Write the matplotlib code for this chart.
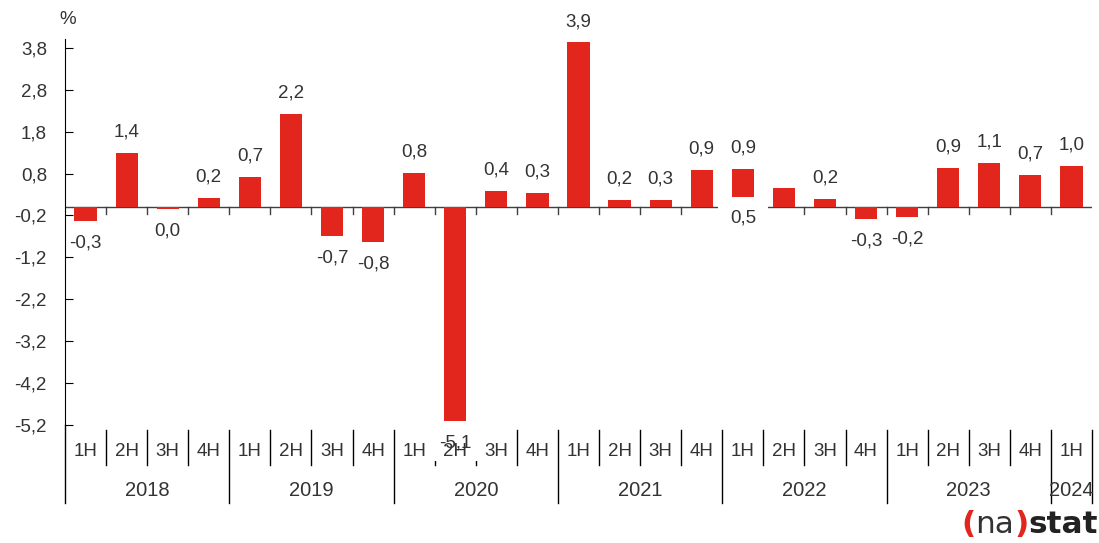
import matplotlib
matplotlib.use("Agg")
import matplotlib.pyplot as plt
import numpy as np
from matplotlib.lines import Line2D
from matplotlib.transforms import blended_transform_factory

plt.rcParams['font.family'] = ['Liberation Sans', 'DejaVu Sans']

# data
years = ['2018', '2019', '2020', '2021', '2022', '2023', '2024']
quarters = ['1H', '2H', '3H', '4H'] * 6 + ['1H']
values = [-0.33, 1.30, -0.05, 0.21,
          0.72, 2.22, -0.69, -0.84,
          0.81, -5.10, 0.38, 0.33,
          3.93, 0.17, 0.17, 0.88,
          0.91, 0.45, 0.19, -0.29,
          -0.24, 0.93, 1.05, 0.76,
          0.98]
labels = ['-0,3', '1,4', '0,0', '0,2',
          '0,7', '2,2', '-0,7', '-0,8',
          '0,8', '-5,1', '0,4', '0,3',
          '3,9', '0,2', '0,3', '0,9',
          '0,9', '0,5', '0,2', '-0,3',
          '-0,2', '0,9', '1,1', '0,7',
          '1,0']
yticks = [-5.2, -4.2, -3.2, -2.2, -1.2, -0.2, 0.8, 1.8, 2.8, 3.8]

RED = '#e2251d'
TXT = '#333333'
W, H = 1099, 543

fig = plt.figure(figsize=(W / 100, H / 100), dpi=100)
ax = fig.add_axes([65 / W, 1 - 425 / H, (1092 - 65) / W, (425 - 39.4) / H])

x = np.arange(len(values))
ax.bar(x, values, width=0.54, color=RED, zorder=2)
ax.set_xlim(-0.5, len(values) - 0.5)
ax.set_ylim(-5.2, 4.0)

for s in ['top', 'right', 'bottom']:
    ax.spines[s].set_visible(False)
ax.spines['left'].set_color('black')
ax.set_xticks([])
ax.set_yticks(yticks)
ax.set_yticklabels([f'{v:.1f}'.replace('.', ',') for v in yticks], fontsize=13.5, color=TXT)
ax.tick_params(axis='y', direction='in', length=6, pad=13, color='black')

# zero line with small ticks between categories
ax.axhline(0, color='#404040', lw=1, zorder=1)
for b in np.arange(0.5, len(values) - 1, 1.0):
    ax.plot([b, b], [0, -0.16], color='#404040', lw=1, zorder=1)

# data labels
for i, (v, lab) in enumerate(zip(values, labels)):
    if i == 17:
        # this label sits under the previous bar with a white box
        ax.annotate(lab, (16, 0), xytext=(0, -8), textcoords='offset points',
                    ha='center', va='center', fontsize=13.5, color=TXT, zorder=4,
                    bbox=dict(boxstyle='square,pad=0.65', fc='white', ec='none'))
        continue
    if v >= 0.05:
        ax.annotate(lab, (i, v), xytext=(0, 15), textcoords='offset points',
                    ha='center', va='center', fontsize=13.5, color=TXT, zorder=4)
    else:
        kw = {}
        if i == 9:
            kw['bbox'] = dict(boxstyle='square,pad=0.5', fc='white', ec='none')
        ax.annotate(lab, (i, v), xytext=(0, -16), textcoords='offset points',
                    ha='center', va='center', fontsize=13.5, color=TXT, zorder=4,
                    annotation_clip=False, **kw)

# category table below the plot
tr = blended_transform_factory(ax.transData, fig.transFigure)
fy = lambda py: 1 - py / H
for i, q in enumerate(quarters):
    ax.text(i, fy(452), q, transform=tr, ha='center', va='center',
            fontsize=13.5, color=TXT, zorder=5)
year_edges = [-0.5, 3.5, 7.5, 11.5, 15.5, 19.5, 23.5, 24.5]
for j, yr in enumerate(years):
    mid = (year_edges[j] + year_edges[j + 1]) / 2
    ax.text(mid, fy(490), yr, transform=tr, ha='center', va='center',
            fontsize=14.5, color=TXT, zorder=5)
for b in np.arange(-0.5, len(values), 1.0):
    bottom = 503 if b in year_edges else 465
    top = 425 if b == -0.5 else 430
    ax.add_line(Line2D([b, b], [fy(top), fy(bottom)], transform=tr,
                       color='black', lw=1, clip_on=False, zorder=3))

fig.text(68 / W, fy(20), '%', fontsize=13.5, color=TXT, ha='center', va='center')

# logo
t1 = fig.text(961 / W, fy(533), '(', fontsize=22.5, color=RED, fontweight='bold',
              family='DejaVu Sans', va='baseline')
t2 = ax.annotate('na', xy=(1, 0), xycoords=t1, va='bottom', fontsize=22.5,
                 color='#333333', family='DejaVu Sans', annotation_clip=False)
t3 = ax.annotate(')', xy=(1, 0), xycoords=t2, va='bottom', fontsize=22.5,
                 color=RED, fontweight='bold', family='DejaVu Sans', annotation_clip=False)
ax.annotate('stat', xy=(1, 0), xycoords=t3, va='bottom', fontsize=22.5,
            color='#222222', fontweight='bold', family='DejaVu Sans', annotation_clip=False)

fig.savefig('out.png', dpi=100)
